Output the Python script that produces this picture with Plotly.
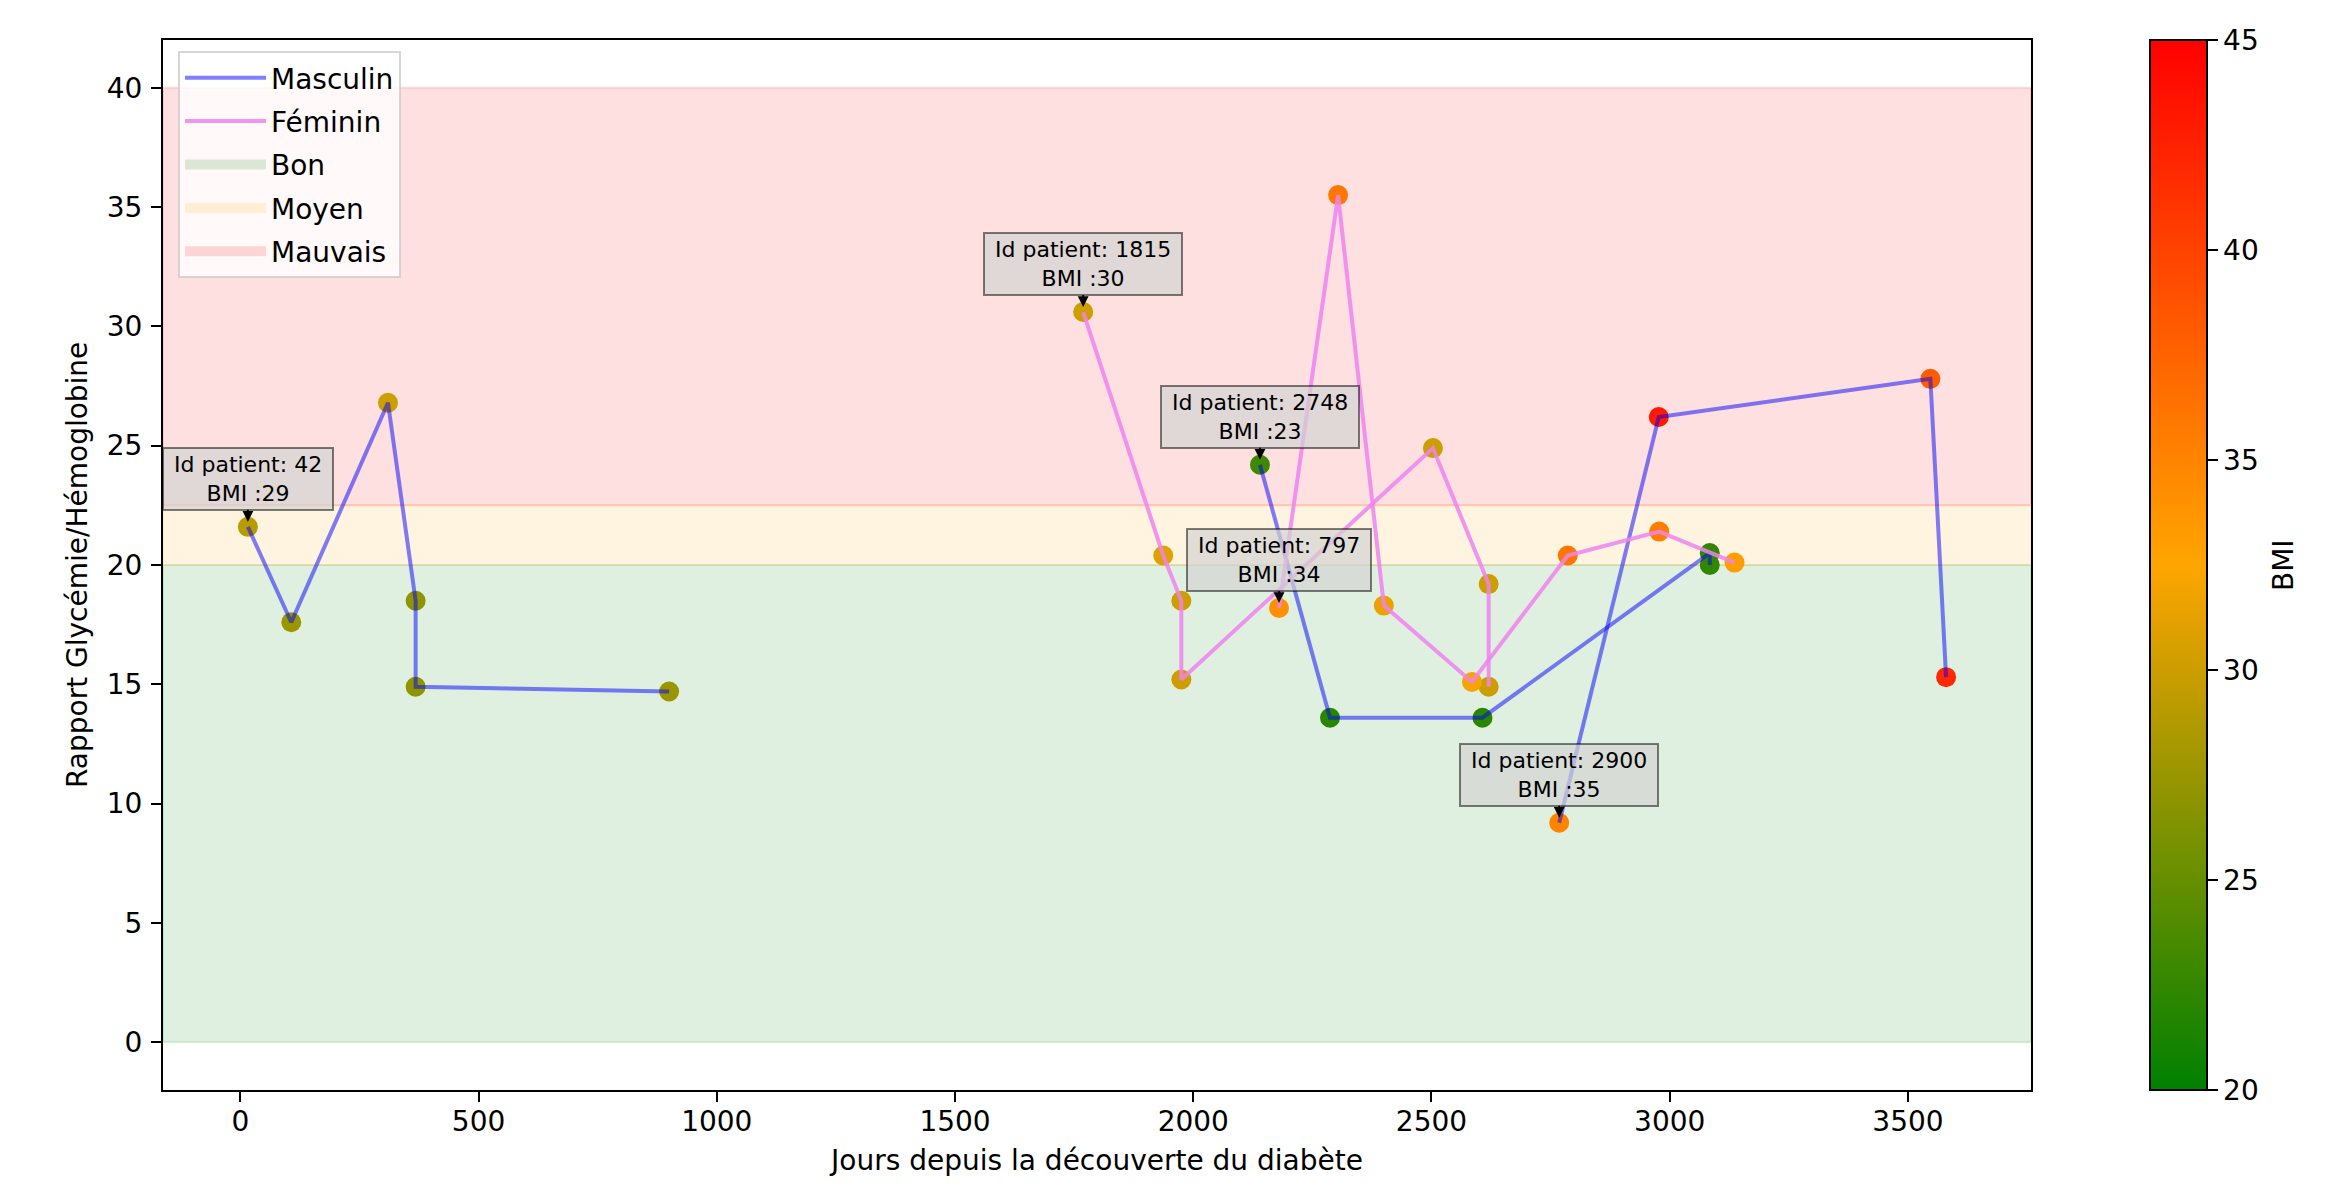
import plotly.graph_objects as go

# Suivi par patient : jours depuis la découverte, rapport glycémie/hémoglobine, BMI
p42_days = [16, 107, 310, 368, 368, 900]
p42_ratio = [21.6, 17.6, 26.8, 18.5, 14.9, 14.7]
p42_bmi = [29, 27.5, 30, 27, 27, 27.5]

p2748_days = [2140, 2287, 2607, 3084, 3084]
p2748_ratio = [24.2, 13.6, 13.6, 20.5, 20.0]
p2748_bmi = [23, 22, 22, 22.5, 22.5]

p2900_days = [2768, 2977, 3547, 3580]
p2900_ratio = [9.2, 26.2, 27.8, 15.3]
p2900_bmi = [35, 43, 38, 42]

p1815_days = [1769, 1937, 1975, 1975, 2503, 2620, 2620]
p1815_ratio = [30.6, 20.4, 18.5, 15.2, 24.9, 19.2, 14.9]
p1815_bmi = [30, 31, 30, 30, 30, 30, 30]

p797_days = [2180, 2304, 2400, 2585, 2786, 2978, 3136]
p797_ratio = [18.2, 35.5, 18.3, 15.1, 20.4, 21.4, 20.1]
p797_bmi = [34, 36, 31.5, 32, 36, 35.5, 33]

patients = [
    (42, "Masculin", p42_days, p42_ratio, p42_bmi),
    (1815, "Féminin", p1815_days, p1815_ratio, p1815_bmi),
    (2748, "Masculin", p2748_days, p2748_ratio, p2748_bmi),
    (797, "Féminin", p797_days, p797_ratio, p797_bmi),
    (2900, "Masculin", p2900_days, p2900_ratio, p2900_bmi),
]

# Zones de qualité du rapport
zone_names = ["Bon", "Moyen", "Mauvais"]
zone_low = [0, 20, 22.5]
zone_high = [20, 22.5, 40]
zone_rgb = ["0,128,0", "255,165,0", "255,0,0"]

sex_names = ["Masculin", "Féminin"]
sex_colors = ["rgba(0,0,255,0.5)", "rgba(238,130,238,0.85)"]

bmi_min, bmi_max = 20, 45
bmi_ticks = [20, 25, 30, 35, 40, 45]

FONT = "DejaVu Sans"
fig = go.Figure()

# Points colorés selon le BMI
all_days, all_ratio, all_bmi = [], [], []
for _, _, d, r, b in patients:
    all_days += d
    all_ratio += r
    all_bmi += b

fig.add_trace(go.Scatter(
    x=all_days, y=all_ratio, mode="markers", showlegend=False,
    marker=dict(
        size=20, color=all_bmi, cmin=bmi_min, cmax=bmi_max,
        colorscale=[[0, "rgb(0,128,0)"], [0.5, "rgb(255,165,0)"], [1, "rgb(255,0,0)"]],
        line=dict(width=0),
        colorbar=dict(
            x=(2150 - 163) / 1868, xanchor="left", xpad=0, ypad=0,
            y=0.5, yanchor="middle", len=1, lenmode="fraction",
            thickness=57, thicknessmode="pixels",
            outlinecolor="black", outlinewidth=2,
            ticks="outside", ticklen=10, tickwidth=2, tickcolor="black",
            tickvals=bmi_ticks, tickfont=dict(family=FONT, size=28, color="black"),
        ),
    ),
))

# Trajectoires par sexe (une ligne par patient)
for rank, (sex, col) in enumerate(zip(sex_names, sex_colors)):
    xs, ys = [], []
    for _, s, d, r, _ in patients:
        if s == sex:
            xs += d + [None]
            ys += r + [None]
    fig.add_trace(go.Scatter(
        x=xs, y=ys, mode="lines", name=sex, legendrank=rank + 1, legendgroup=sex,
        line=dict(color=col, width=4), connectgaps=False,
    ))

# Bandes horizontales, avec leur entrée de légende en aplat
for i, (name, lo, hi, rgb) in enumerate(zip(zone_names, zone_low, zone_high, zone_rgb)):
    fig.add_shape(
        type="rect", xref="x domain", x0=0, x1=1, yref="y", y0=lo, y1=hi,
        fillcolor=f"rgba({rgb},0.12)", line=dict(color=f"rgba({rgb},0.12)", width=2),
        layer="below",
    )
    fig.add_trace(go.Scatter(
        x=[None], y=[None], mode="lines", name=name, legendrank=3 + i, legendgroup=name,
        line=dict(color=f"rgba({rgb},0.15)", width=15), hoverinfo="skip",
    ))

# Étiquettes sur la première mesure de chaque patient
for pid, _, d, r, b in patients:
    fig.add_annotation(
        x=d[0], y=r[0], xref="x", yref="y",
        text=f"&nbsp;Id patient: {pid}&nbsp;<br>BMI :{int(b[0])}",
        font=dict(family=FONT, size=22, color="black"), align="center",
        showarrow=True, ax=0, ay=-48, arrowhead=2, arrowsize=1.2, arrowwidth=1.8,
        arrowcolor="black", standoff=5,
        bgcolor="rgba(211,211,211,0.7)", bordercolor="rgba(0,0,0,0.5)",
        borderwidth=2, borderpad=3,
    )

# Titre de l'axe vertical
fig.add_annotation(
    xref="paper", yref="paper", x=(77 - 163) / 1868, y=0.5,
    xanchor="center", yanchor="middle", textangle=-90, showarrow=False,
    text="Rapport Glycémie/Hémoglobine", font=dict(family=FONT, size=28, color="black"),
)

# Titre de la barre de couleur
fig.add_annotation(
    xref="paper", yref="paper", x=(2283 - 163) / 1868, y=0.5,
    xanchor="center", yanchor="middle", textangle=-90, showarrow=False,
    text="BMI", font=dict(family=FONT, size=28, color="black"),
)

xmin, xmax = min(all_days), max(all_days)
xpad = 0.05 * (xmax - xmin)
ypad = 0.05 * (max(zone_high) - min(zone_low))

axis_common = dict(
    showline=True, linecolor="black", linewidth=2, mirror=True,
    ticks="outside", ticklen=10, tickwidth=2, tickcolor="black",
    showgrid=False, zeroline=False,
    tickfont=dict(family=FONT, size=28, color="black"),
)

fig.update_layout(
    width=2344, height=1190,
    margin=dict(l=163, r=313, t=40, b=100),
    paper_bgcolor="white", plot_bgcolor="white",
    font=dict(family=FONT, size=28, color="black"),
    xaxis=dict(
        range=[xmin - xpad, xmax + xpad], tick0=0, dtick=500,
        title=dict(text="Jours depuis la découverte du diabète", standoff=14,
                   font=dict(family=FONT, size=28, color="black")),
        ticklabelstandoff=-5,
        **axis_common,
    ),
    yaxis=dict(
        range=[min(zone_low) - ypad, max(zone_high) + ypad], tick0=0, dtick=5,
        ticklabelstandoff=3,
        **axis_common,
    ),
    legend=dict(
        x=(178 - 163) / 1868, y=1 - (51 - 40) / 1050, xanchor="left", yanchor="top",
        bgcolor="rgba(255,255,255,0.8)", bordercolor="rgba(204,204,204,0.8)", borderwidth=2,
        font=dict(family=FONT, size=28, color="black"), itemwidth=81,
        traceorder="grouped", tracegroupgap=4,
    ),
    showlegend=True,
)

fig.write_html("out.html")
